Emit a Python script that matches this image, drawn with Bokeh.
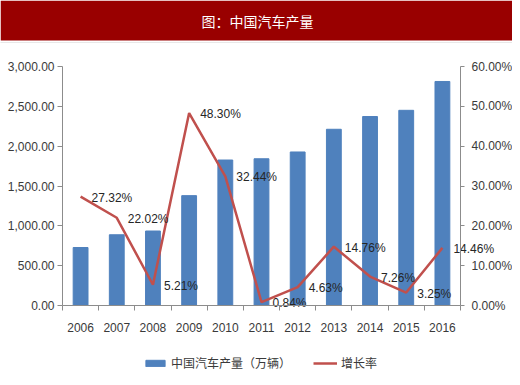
import numpy as np
from bokeh.plotting import figure
from bokeh.models import (Range1d, LinearAxis, FixedTicker, NumeralTickFormatter,
                          Legend, LegendItem, ColumnDataSource, BoxAnnotation, Label, Span)
from bokeh.embed import file_html
from bokeh.resources import INLINE

years = ["2006", "2007", "2008", "2009", "2010", "2011", "2012", "2013", "2014", "2015", "2016"]
output = [728, 888, 935, 1379, 1826, 1842, 1927, 2212, 2372, 2450, 2812]
growth = [27.32, 22.02, 5.21, 48.30, 32.44, 0.84, 4.63, 14.76, 7.26, 3.25, 14.46]
left_ticks = [0, 500, 1000, 1500, 2000, 2500, 3000]
right_ticks = [0, 0.1, 0.2, 0.3, 0.4, 0.5, 0.6]
left_max, right_max = 3000, 0.6

n = len(years)
xpos = np.arange(n) + 0.5
src = ColumnDataSource(dict(
    x=xpos, output=output, g=[v / 100 for v in growth],
    lab=["%.2f%%" % v for v in growth]))

# layout (pixels inside the canvas): plotting box
W, H = 512, 377
L, R, T, B = 62, 460, 66, 305
sx = n / (R - L)
sy = left_max / (B - T)
sp = right_max / (B - T)

FONT = "Liberation Sans"
CJK = "Noto Sans CJK SC"
TXT = "#3a3a3a"
AX = "#8c8c8c"

p = figure(width=W, height=H, output_backend="svg", toolbar_location=None,
           x_range=Range1d(-L * sx, n + (W - R) * sx),
           y_range=Range1d(-(H - B) * sy, left_max + T * sy),
           min_border=0)
p.outline_line_color = None
p.grid.grid_line_color = None
p.extra_y_ranges = {"pct": Range1d(-(H - B) * sp, right_max + T * sp)}

bars = p.vbar(x="x", top="output", width=0.41, source=src, fill_color="#4F81BD",
              line_color="#4F81BD")
line = p.line(x="x", y="g", source=src, y_range_name="pct", line_color="#C0504D",
              line_width=2.5)
p.text(x="x", y="g", text="lab", source=src, y_range_name="pct", x_offset=11, y_offset=1,
       text_baseline="middle", text_align="left", text_font_size="12px",
       text_color="#262626", text_font={"value": FONT})

# x axis at y = 0
xa = p.xaxis[0]
xa.fixed_location = 0
xa.bounds = (0, n)
xa.ticker = FixedTicker(ticks=list(xpos), minor_ticks=list(range(n + 1)))
xa.major_label_overrides = {float(x): y for x, y in zip(xpos, years)}
xa.major_tick_out = 0
xa.major_tick_in = 0
xa.minor_tick_out = 5
xa.minor_tick_in = 0
xa.minor_tick_line_color = AX
xa.axis_line_color = AX
xa.major_label_standoff = 12
xa.major_label_text_font = FONT
xa.major_label_text_font_size = "12px"
xa.major_label_text_color = TXT

# left axis at x = 0
ya = p.yaxis[0]
ya.fixed_location = 0
ya.bounds = (0, left_max)
ya.ticker = FixedTicker(ticks=left_ticks)
ya.formatter = NumeralTickFormatter(format="0,0.00")
ya.axis_line_color = AX
ya.major_tick_line_color = AX
ya.major_tick_out = 5
ya.major_tick_in = 0
ya.minor_tick_line_color = None
ya.major_label_standoff = 3
ya.major_label_text_font = FONT
ya.major_label_text_font_size = "12px"
ya.major_label_text_color = TXT

# right axis at x = n
ra = LinearAxis(y_range_name="pct", ticker=FixedTicker(ticks=right_ticks),
                formatter=NumeralTickFormatter(format="0.00%"),
                fixed_location=n, bounds=(0, right_max))
ra.axis_line_color = AX
ra.major_tick_line_color = AX
ra.major_tick_out = 4
ra.major_tick_in = 0
ra.minor_tick_line_color = None
ra.major_label_standoff = 7
ra.major_label_text_font = FONT
ra.major_label_text_font_size = "12px"
ra.major_label_text_color = TXT
p.add_layout(ra, "right")

legend = Legend(items=[LegendItem(label="中国汽车产量（万辆）", renderers=[bars]),
                       LegendItem(label="增长率", renderers=[line])],
                orientation="horizontal", location=(143, 6))
legend.label_text_font = CJK
legend.label_text_font_size = "12px"
legend.label_text_color = TXT
legend.glyph_width = 24
legend.glyph_height = 8
legend.label_standoff = 4
legend.spacing = 22
legend.padding = 0
legend.margin = 0
legend.border_line_color = None
legend.background_fill_alpha = 0
p.add_layout(legend, "center")

# banner
p.add_layout(BoxAnnotation(left=0, right=W, bottom=H - 40, top=H,
                           left_units="screen", right_units="screen",
                           top_units="screen", bottom_units="screen",
                           fill_color="#990000", fill_alpha=1, line_color=None))
p.add_layout(Span(location=H - 42, dimension="width", location_units="screen",
                  line_color="#d0d0d0", line_dash="1 1", line_width=1))
p.add_layout(Label(x=257, y=H - 20, x_units="screen", y_units="screen",
                   text="图：中国汽车产量", text_align="center", text_baseline="middle",
                   text_color="white", text_font=CJK, text_font_size="14px"))
open("out.html", "w").write(file_html(p, INLINE))
